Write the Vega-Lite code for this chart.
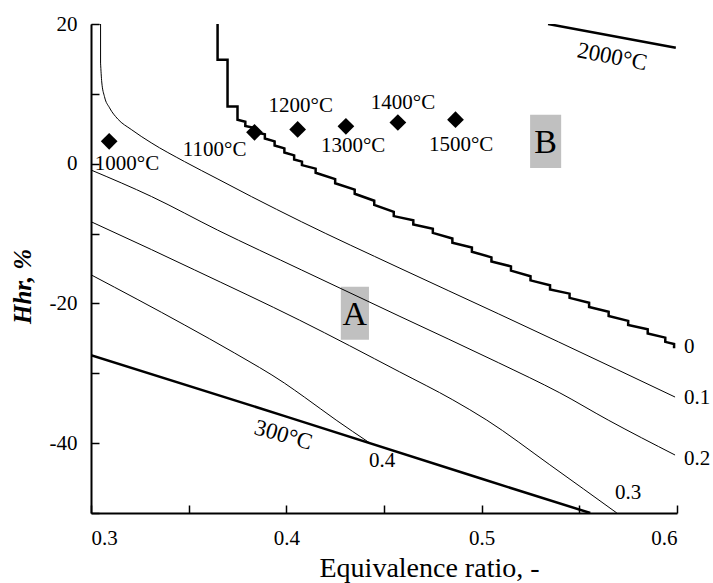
{
  "$schema": "https://vega.github.io/schema/vega-lite/v6.json",
  "width": 586,
  "height": 489,
  "autosize": {"type": "none"},
  "padding": {"left": 91, "top": 24, "right": 36, "bottom": 70},
  "config": {
    "font": "Liberation Serif",
    "view": {"stroke": null},
    "axis": {
      "grid": false,
      "domainColor": "black",
      "domainWidth": 2,
      "tickColor": "black",
      "tickWidth": 1.5,
      "tickSize": -8,
      "labelColor": "black",
      "labelFont": "Liberation Serif",
      "labelFontSize": 21,
      "labelPadding": 22,
      "titleColor": "black",
      "titleFont": "Liberation Serif",
      "titleFontWeight": "normal"
    }
  },
  "datasets": {
    "corner": [
      {"s": "0.1", "i": 1, "x": 0.3, "y": 20},
      {"s": "0.1", "i": 2, "x": 0.3049, "y": 20},
      {"s": "0.1", "i": 3, "x": 0.3049, "y": 14.4}
    ],
    "thin": [
      {"s": "0.1", "i": 3, "x": 0.3049, "y": 14.4},
      {"s": "0.1", "i": 4, "x": 0.3055, "y": 11.7},
      {"s": "0.1", "i": 5, "x": 0.3069, "y": 9.6},
      {"s": "0.1", "i": 6, "x": 0.3095, "y": 8.0},
      {"s": "0.1", "i": 7, "x": 0.3137, "y": 6.4},
      {"s": "0.1", "i": 8, "x": 0.3206, "y": 4.9},
      {"s": "0.1", "i": 9, "x": 0.3308, "y": 3.0},
      {"s": "0.1", "i": 10, "x": 0.3479, "y": 0.3},
      {"s": "0.1", "i": 11, "x": 0.365, "y": -2.2},
      {"s": "0.1", "i": 12, "x": 0.3821, "y": -4.7},
      {"s": "0.1", "i": 13, "x": 0.4077, "y": -8.3},
      {"s": "0.1", "i": 14, "x": 0.4577, "y": -14.9},
      {"s": "0.1", "i": 15, "x": 0.5087, "y": -21.5},
      {"s": "0.1", "i": 16, "x": 0.5393, "y": -25.5},
      {"s": "0.1", "i": 17, "x": 0.599, "y": -33.4},
      {"s": "0.2", "i": 1, "x": 0.3, "y": -0.9},
      {"s": "0.2", "i": 2, "x": 0.331, "y": -4.7},
      {"s": "0.2", "i": 3, "x": 0.3648, "y": -9.5},
      {"s": "0.2", "i": 4, "x": 0.4077, "y": -15.2},
      {"s": "0.2", "i": 5, "x": 0.4577, "y": -21.8},
      {"s": "0.2", "i": 6, "x": 0.5087, "y": -28.5},
      {"s": "0.2", "i": 7, "x": 0.54, "y": -32.8},
      {"s": "0.2", "i": 8, "x": 0.5648, "y": -36.7},
      {"s": "0.2", "i": 9, "x": 0.599, "y": -41.7},
      {"s": "0.3", "i": 1, "x": 0.3, "y": -8.3},
      {"s": "0.3", "i": 2, "x": 0.331, "y": -12.3},
      {"s": "0.3", "i": 3, "x": 0.353, "y": -15.2},
      {"s": "0.3", "i": 4, "x": 0.4068, "y": -22.4},
      {"s": "0.3", "i": 5, "x": 0.458, "y": -29.8},
      {"s": "0.3", "i": 6, "x": 0.4852, "y": -33.8},
      {"s": "0.3", "i": 7, "x": 0.5026, "y": -36.7},
      {"s": "0.3", "i": 8, "x": 0.5349, "y": -43.1},
      {"s": "0.3", "i": 9, "x": 0.5692, "y": -50.0},
      {"s": "0.4", "i": 1, "x": 0.3, "y": -15.9},
      {"s": "0.4", "i": 2, "x": 0.348, "y": -23.1},
      {"s": "0.4", "i": 3, "x": 0.3735, "y": -27.1},
      {"s": "0.4", "i": 4, "x": 0.399, "y": -31.4},
      {"s": "0.4", "i": 5, "x": 0.4092, "y": -33.4},
      {"s": "0.4", "i": 6, "x": 0.4255, "y": -36.7},
      {"s": "0.4", "i": 7, "x": 0.4423, "y": -39.9}
    ],
    "thick": [
      {"s": "300", "i": 1, "x": 0.3, "y": -27.4},
      {"s": "300", "i": 2, "x": 0.4, "y": -36.2},
      {"s": "300", "i": 3, "x": 0.5, "y": -45.1},
      {"s": "300", "i": 4, "x": 0.5556, "y": -50.0},
      {"s": "2000", "i": 1, "x": 0.534, "y": 20.0},
      {"s": "2000", "i": 2, "x": 0.5994, "y": 16.6},
      {"s": "0", "i": 1, "x": 0.3648, "y": 20},
      {"s": "0", "i": 2, "x": 0.3648, "y": 14.9},
      {"s": "0", "i": 3, "x": 0.3699, "y": 14.9},
      {"s": "0", "i": 4, "x": 0.3699, "y": 8.2},
      {"s": "0", "i": 5, "x": 0.375, "y": 8.2},
      {"s": "0", "i": 6, "x": 0.375, "y": 6.3},
      {"s": "0", "i": 7, "x": 0.379, "y": 6.0},
      {"s": "0", "i": 8, "x": 0.379, "y": 5.4},
      {"s": "0", "i": 9, "x": 0.384, "y": 5.1},
      {"s": "0", "i": 10, "x": 0.384, "y": 4.5},
      {"s": "0", "i": 11, "x": 0.389, "y": 4.2},
      {"s": "0", "i": 12, "x": 0.389, "y": 3.6},
      {"s": "0", "i": 13, "x": 0.394, "y": 3.2},
      {"s": "0", "i": 14, "x": 0.394, "y": 2.6},
      {"s": "0", "i": 15, "x": 0.399, "y": 2.2},
      {"s": "0", "i": 16, "x": 0.399, "y": 1.6},
      {"s": "0", "i": 17, "x": 0.404, "y": 1.2},
      {"s": "0", "i": 18, "x": 0.404, "y": 0.6},
      {"s": "0", "i": 19, "x": 0.408, "y": 0.3},
      {"s": "0", "i": 20, "x": 0.408, "y": -0.2},
      {"s": "0", "i": 21, "x": 0.415, "y": -0.7},
      {"s": "0", "i": 22, "x": 0.415, "y": -1.3},
      {"s": "0", "i": 23, "x": 0.425, "y": -2.2},
      {"s": "0", "i": 24, "x": 0.425, "y": -2.8},
      {"s": "0", "i": 25, "x": 0.435, "y": -3.7},
      {"s": "0", "i": 26, "x": 0.435, "y": -4.3},
      {"s": "0", "i": 27, "x": 0.445, "y": -5.3},
      {"s": "0", "i": 28, "x": 0.445, "y": -5.9},
      {"s": "0", "i": 29, "x": 0.455, "y": -6.9},
      {"s": "0", "i": 30, "x": 0.455, "y": -7.5},
      {"s": "0", "i": 31, "x": 0.465, "y": -8.1},
      {"s": "0", "i": 32, "x": 0.465, "y": -8.7},
      {"s": "0", "i": 33, "x": 0.475, "y": -9.3},
      {"s": "0", "i": 34, "x": 0.475, "y": -9.9},
      {"s": "0", "i": 35, "x": 0.485, "y": -10.7},
      {"s": "0", "i": 36, "x": 0.485, "y": -11.3},
      {"s": "0", "i": 37, "x": 0.495, "y": -12.0},
      {"s": "0", "i": 38, "x": 0.495, "y": -12.6},
      {"s": "0", "i": 39, "x": 0.505, "y": -13.4},
      {"s": "0", "i": 40, "x": 0.505, "y": -14.0},
      {"s": "0", "i": 41, "x": 0.515, "y": -14.7},
      {"s": "0", "i": 42, "x": 0.515, "y": -15.3},
      {"s": "0", "i": 43, "x": 0.525, "y": -16.1},
      {"s": "0", "i": 44, "x": 0.525, "y": -16.7},
      {"s": "0", "i": 45, "x": 0.535, "y": -17.4},
      {"s": "0", "i": 46, "x": 0.535, "y": -18.0},
      {"s": "0", "i": 47, "x": 0.545, "y": -18.6},
      {"s": "0", "i": 48, "x": 0.545, "y": -19.2},
      {"s": "0", "i": 49, "x": 0.555, "y": -19.9},
      {"s": "0", "i": 50, "x": 0.555, "y": -20.5},
      {"s": "0", "i": 51, "x": 0.565, "y": -21.2},
      {"s": "0", "i": 52, "x": 0.565, "y": -21.8},
      {"s": "0", "i": 53, "x": 0.575, "y": -22.5},
      {"s": "0", "i": 54, "x": 0.575, "y": -23.1},
      {"s": "0", "i": 55, "x": 0.585, "y": -23.7},
      {"s": "0", "i": 56, "x": 0.585, "y": -24.3},
      {"s": "0", "i": 57, "x": 0.594, "y": -24.9},
      {"s": "0", "i": 58, "x": 0.594, "y": -25.5},
      {"s": "0", "i": 59, "x": 0.5985, "y": -25.8},
      {"s": "0", "i": 60, "x": 0.5985, "y": -26.4}
    ],
    "pts": [
      {"t": 1000, "x": 0.3093, "y": 3.2},
      {"t": 1100, "x": 0.3837, "y": 4.5},
      {"t": 1200, "x": 0.4058, "y": 4.9},
      {"t": 1300, "x": 0.4305, "y": 5.35},
      {"t": 1400, "x": 0.4571, "y": 5.9},
      {"t": 1500, "x": 0.4866, "y": 6.3}
    ],
    "labels": [
      {"t": "1000°C", "x": 0.3184, "y": -0.1},
      {"t": "1100°C", "x": 0.3633, "y": 1.9},
      {"t": "1200°C", "x": 0.4074, "y": 8.2},
      {"t": "1300°C", "x": 0.4342, "y": 2.5},
      {"t": "1400°C", "x": 0.4597, "y": 8.7},
      {"t": "1500°C", "x": 0.4895, "y": 2.7},
      {"t": "0.3", "x": 0.575, "y": -47.2},
      {"t": "0.4", "x": 0.449, "y": -42.6}
    ],
    "endlabels": [
      {"t": "0", "x": 0.6036, "y": -26.2},
      {"t": "0.1", "x": 0.6036, "y": -33.5},
      {"t": "0.2", "x": 0.6036, "y": -42.2}
    ],
    "boxes": [
      {"t": "A", "x1": 0.4279, "x2": 0.4423, "y1": -17.6, "y2": -25.2, "xc": 0.4351, "yc": -21.4},
      {"t": "B", "x1": 0.5248, "x2": 0.5407, "y1": 7.0, "y2": -0.6, "xc": 0.5327, "yc": 3.2}
    ],
    "rot2000": [{"t": "2000°C", "x": 0.5668, "y": 15.3}],
    "rot300": [{"t": "300°C", "x": 0.3985, "y": -38.85}]
  },
  "layer": [
    {
      "data": {"name": "boxes"},
      "mark": {"type": "rect", "color": "#c0c0c0"},
      "encoding": {
        "x": {"field": "x1", "type": "quantitative", "scale": {"domain": [0.3, 0.6], "nice": false, "zero": false},
          "axis": {
            "values": [0.3, 0.35, 0.4, 0.45, 0.5, 0.55, 0.6],
            "labelExpr": "abs(datum.value*10 - round(datum.value*10)) < 0.01 ? format(datum.value, '.1f') : ''",
            "title": "Equivalence ratio, -",
            "titleFontSize": 28,
            "titlePadding": 6,
            "titleX": 338
          }},
        "x2": {"field": "x2"},
        "y": {"field": "y1", "type": "quantitative", "scale": {"domain": [-50, 20], "nice": false, "zero": false},
          "axis": {
            "values": [-50, -40, -30, -20, -10, 0, 10, 20],
            "labelExpr": "datum.value % 20 === 0 ? '' + datum.value : ''",
            "title": "Hhr, %",
            "titleFontSize": 25,
            "titleFontStyle": "italic",
            "titleFontWeight": "bold",
            "titlePadding": 14,
            "titleY": 262
          }},
        "y2": {"field": "y2"}
      }
    },
    {
      "data": {"name": "boxes"},
      "mark": {"type": "text", "fontSize": 34, "color": "black", "align": "center", "baseline": "middle", "dy": 2},
      "encoding": {
        "x": {"field": "xc", "type": "quantitative"},
        "y": {"field": "yc", "type": "quantitative"},
        "text": {"field": "t"}
      }
    },
    {
      "data": {"name": "corner"},
      "mark": {"type": "line", "color": "black", "strokeWidth": 1, "clip": true},
      "encoding": {
        "x": {"field": "x", "type": "quantitative"},
        "y": {"field": "y", "type": "quantitative"},
        "order": {"field": "i"}
      }
    },
    {
      "data": {"name": "thin"},
      "mark": {"type": "line", "color": "black", "strokeWidth": 1, "clip": true, "interpolate": "monotone"},
      "encoding": {
        "x": {"field": "x", "type": "quantitative"},
        "y": {"field": "y", "type": "quantitative"},
        "detail": {"field": "s"},
        "order": {"field": "i"}
      }
    },
    {
      "data": {"name": "thick"},
      "mark": {"type": "line", "color": "black", "strokeWidth": 2.5, "clip": true},
      "encoding": {
        "x": {"field": "x", "type": "quantitative"},
        "y": {"field": "y", "type": "quantitative"},
        "detail": {"field": "s"},
        "order": {"field": "i"}
      }
    },
    {
      "data": {"name": "pts"},
      "mark": {"type": "point", "shape": "diamond", "filled": true, "color": "black", "size": 280, "opacity": 1},
      "encoding": {
        "x": {"field": "x", "type": "quantitative"},
        "y": {"field": "y", "type": "quantitative"}
      }
    },
    {
      "data": {"name": "labels"},
      "mark": {"type": "text", "fontSize": 21, "color": "black", "align": "center", "baseline": "middle"},
      "encoding": {
        "x": {"field": "x", "type": "quantitative"},
        "y": {"field": "y", "type": "quantitative"},
        "text": {"field": "t"}
      }
    },
    {
      "data": {"name": "endlabels"},
      "mark": {"type": "text", "fontSize": 21, "color": "black", "align": "left", "baseline": "middle"},
      "encoding": {
        "x": {"field": "x", "type": "quantitative"},
        "y": {"field": "y", "type": "quantitative"},
        "text": {"field": "t"}
      }
    },
    {
      "data": {"name": "rot2000"},
      "mark": {"type": "text", "fontSize": 23, "color": "black", "align": "center", "baseline": "middle", "angle": 11},
      "encoding": {
        "x": {"field": "x", "type": "quantitative"},
        "y": {"field": "y", "type": "quantitative"},
        "text": {"field": "t"}
      }
    },
    {
      "data": {"name": "rot300"},
      "mark": {"type": "text", "fontSize": 23, "color": "black", "align": "center", "baseline": "middle", "angle": 16},
      "encoding": {
        "x": {"field": "x", "type": "quantitative"},
        "y": {"field": "y", "type": "quantitative"},
        "text": {"field": "t"}
      }
    }
  ]
}
